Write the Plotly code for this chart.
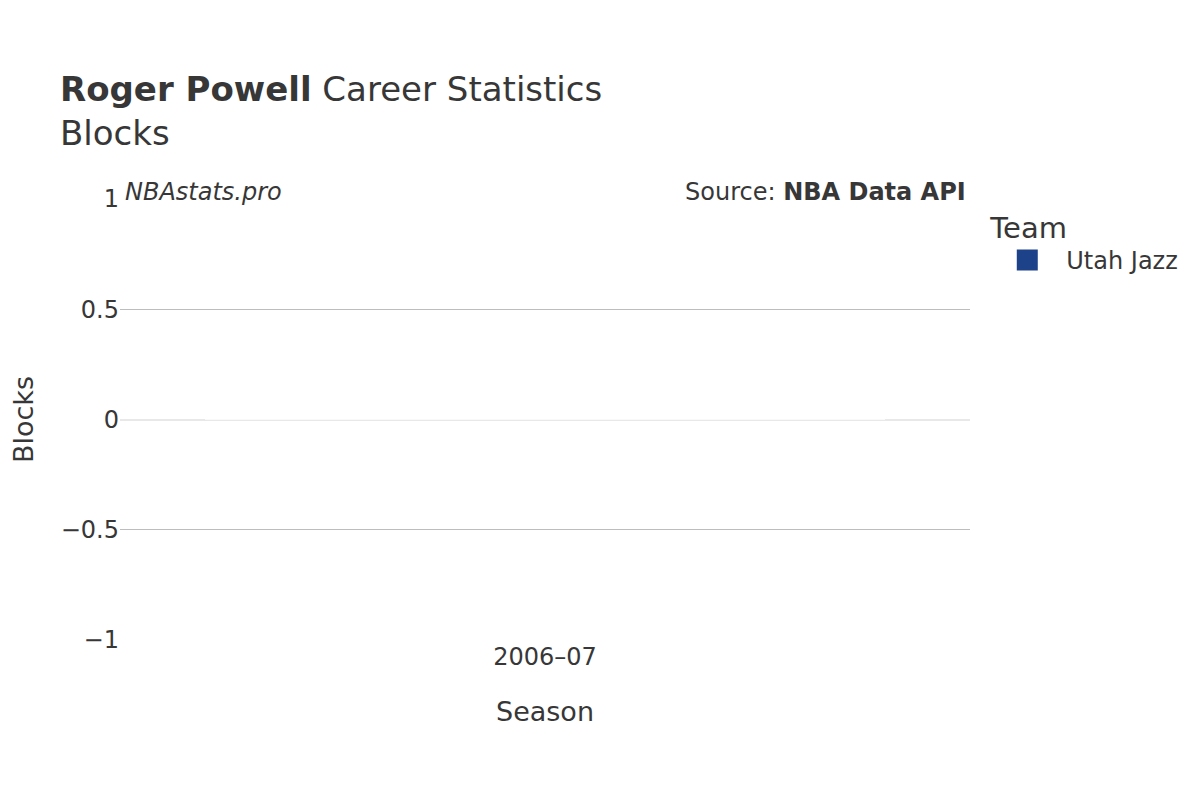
import plotly.graph_objects as go

# Career blocks per season
PLAYER = "Roger Powell"
STAT = "Blocks"
seasons = ["2006–07"]
teams = ["Utah Jazz"]
blocks = [0]
team_colors = {"Utah Jazz": "#1D428A"}

FONT = "DejaVu Sans"
TEXT_COLOR = "#373737"

fig = go.Figure()

for team in teams:
    # the bar itself (legend handled by a proxy marker below, so it can be bigger)
    fig.add_trace(go.Bar(
        x=seasons,
        y=blocks,
        name=team,
        width=0.8,
        showlegend=False,
        marker=dict(color=team_colors[team], cornerradius=4,
                    line=dict(color="white", width=0.5)),
    ))
    fig.add_trace(go.Scatter(
        x=[seasons[0]],
        y=[None],
        mode="markers",
        name=team,
        marker=dict(symbol="square", size=16, color=team_colors[team],
                    line=dict(color=team_colors[team], width=5)),
        hoverinfo="skip",
    ))

# --- Watermark and source ---
fig.add_annotation(
    text="<i>NBAstats.pro</i>", xref="paper", yref="paper",
    x=0.004, y=1.0, xanchor="left", yanchor="middle", yshift=7,
    showarrow=False, font=dict(family=FONT, size=24, color=TEXT_COLOR),
)
fig.add_annotation(
    text="Source: <b>NBA Data API</b>", xref="paper", yref="paper",
    x=0.998, y=1.0, xanchor="right", yanchor="middle", yshift=7,
    showarrow=False, font=dict(family=FONT, size=24, color=TEXT_COLOR),
)

fig.update_layout(
    width=1200,
    height=800,
    template="plotly_white",
    font=dict(family=FONT, size=24, color=TEXT_COLOR),
    title=dict(
        text=f"<b>{PLAYER}</b> Career Statistics<br>{STAT}",
        x=0.0433, xanchor="left", y=0.884, yanchor="top",
        font=dict(family=FONT, size=34, color=TEXT_COLOR),
    ),
    margin=dict(l=112, r=238, t=191, b=168),
    xaxis=dict(
        title=dict(text="Season", font=dict(size=27), standoff=32),
        showgrid=False,
        automargin=False,
        tickfont=dict(size=24),
    ),
    yaxis=dict(
        title=dict(text=STAT, font=dict(size=27), standoff=33),
        range=[-1, 1],
        dtick=0.5,
        gridcolor="#bdbdbd",
        zeroline=True,
        zerolinecolor="#e8e8e8",
        zerolinewidth=2,
        automargin=False,
        tickfont=dict(size=24),
    ),
    legend=dict(
        title=dict(text="Team", font=dict(size=29)),
        font=dict(size=24),
        itemwidth=68,
        x=1.0215, y=0.997, xanchor="left", yanchor="top",
    ),
    showlegend=True,
    plot_bgcolor="white",
    paper_bgcolor="white",
)

fig.write_html("out.html")
